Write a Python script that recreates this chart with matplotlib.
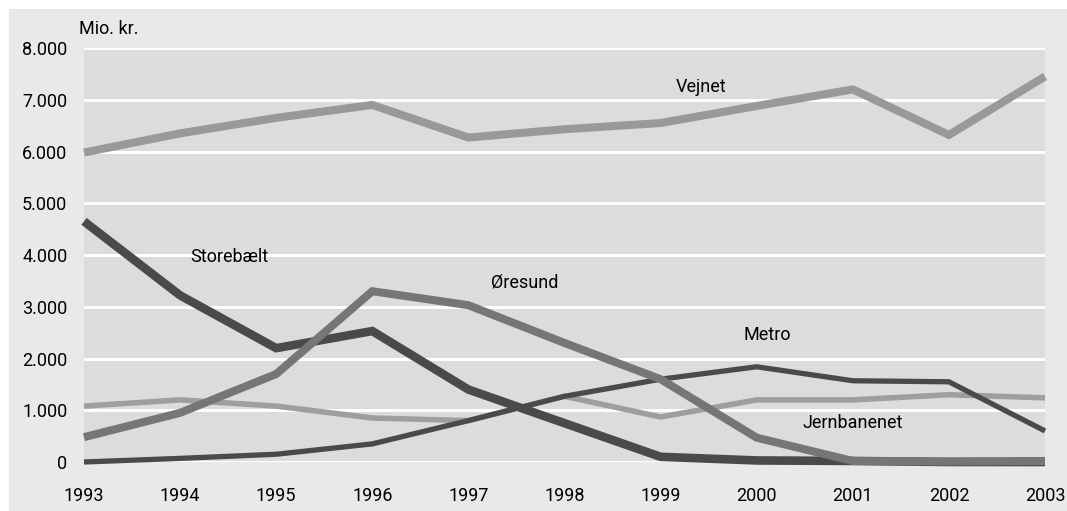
import matplotlib
matplotlib.use("Agg")
import matplotlib.pyplot as plt
from matplotlib.patches import Rectangle
from matplotlib.ticker import FuncFormatter

plt.rcParams['font.family'] = ['Roboto', 'DejaVu Sans']

# ── data (Mio. kr.) ─────────────────────────
years = [1993, 1994, 1995, 1996, 1997, 1998, 1999, 2000, 2001, 2002, 2003]
vejnet      = [5980, 6350, 6650, 6900, 6270, 6430, 6550, 6880, 7200, 6320, 7450]
storebaelt  = [4650, 3220, 2200, 2530, 1400, 750, 100, 30, 20, 0, 0]
oeresund    = [480, 950, 1700, 3300, 3030, 2300, 1600, 470, 20, 10, 20]
metro       = [0, 70, 150, 350, 800, 1270, 1600, 1840, 1570, 1550, 600]
jernbanenet = [1080, 1200, 1080, 850, 800, 1270, 870, 1200, 1200, 1300, 1240]

labels = ["Vejnet", "Storebælt", "Øresund", "Metro", "Jernbanenet"]
label_x = [1999.42, 1994.51, 1997.59, 2000.11, 2001.0]
label_y = [7250, 3960, 3460, 2450, 750]

# ── figure ─────────────────────────
fig = plt.figure(figsize=(10.67, 5.11), dpi=100, facecolor='white')
fig.patches.append(Rectangle((9 / 1067, 0), 1, 1 - 9 / 511, transform=fig.transFigure,
                             facecolor='#e9e9e9', edgecolor='none', zorder=-10))

ax = fig.add_axes([84 / 1067, 1 - 462 / 511, (1045 - 84) / 1067, (462 - 48) / 511])
ax.set_facecolor('#dcdcdc')
for s in ax.spines.values():
    s.set_visible(False)

ax.set_xlim(1993, 2003)
ax.set_ylim(0, 8000)
ax.set_yticks(range(0, 8001, 1000))
ax.set_xticks(years)
ax.yaxis.set_major_formatter(FuncFormatter(lambda v, p: f"{int(v):,}".replace(",", ".")))
ax.tick_params(length=0, labelsize=13, colors='black')
ax.tick_params(axis='y', pad=12)
ax.tick_params(axis='x', pad=18)
ax.grid(axis='y', color='white', linewidth=2.2, zorder=1)
ax.set_axisbelow(True)

kw = dict(solid_capstyle='butt', solid_joinstyle='miter', clip_on=False)
ax.plot(years, jernbanenet, color='#9e9e9e', linewidth=4.0, zorder=3, **kw)
ax.plot(years, vejnet, color='#999999', linewidth=5.8, zorder=3, **kw)
ax.plot(years, storebaelt, color='#4a4a4a', linewidth=6.2, zorder=4, **kw)
ax.plot(years, metro, color='#4a4a4a', linewidth=3.8, zorder=5, **kw)
ax.plot(years, oeresund, color='#767676', linewidth=5.8, zorder=6, **kw)

for t, x, y in zip(labels, label_x, label_y):
    ax.text(x, y, t, ha='center', va='center', fontsize=13, zorder=7)

fig.text(79 / 1067, 1 - 29 / 511, "Mio. kr.", ha='left', va='center', fontsize=13)

fig.savefig("out.png", dpi=100, facecolor=fig.get_facecolor())
